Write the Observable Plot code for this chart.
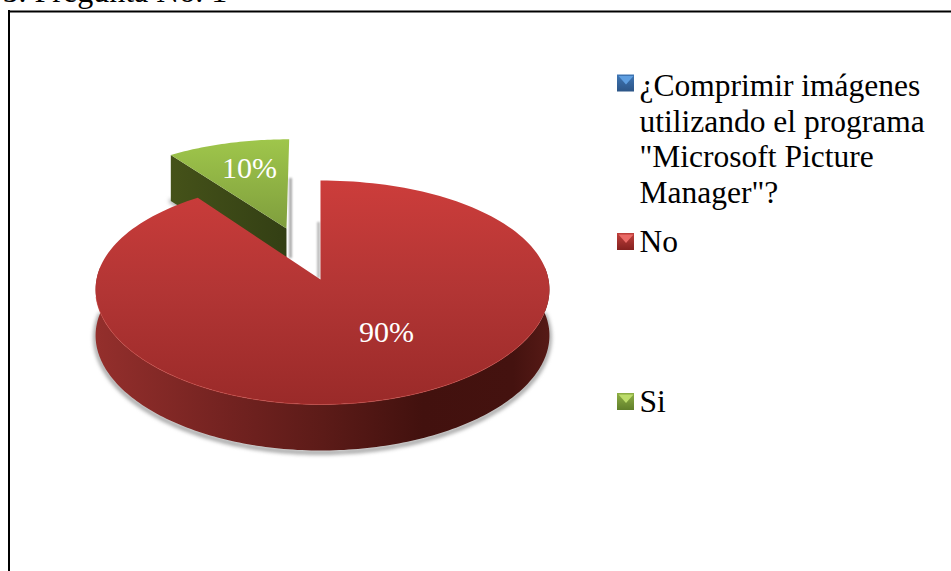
<!DOCTYPE html>
<html>
<head>
<meta charset="utf-8">
<style>html,body{margin:0;padding:0;background:#fff;overflow:hidden}svg{display:block}</style>
<script src="https://cdn.jsdelivr.net/npm/d3@7"></script>
<script src="https://cdn.jsdelivr.net/npm/@observablehq/plot@0.6"></script>
</head>
<body>
<script>
const categories = ["¿Comprimir imágenes\nutilizando el programa\n\"Microsoft Picture\nManager\"?", "No", "Si"];
const shares = [0, 90, 10];
const sliceLabels = ["", "90%", "10%"];
const title = "5. Pregunta No. 1";

// Projection of the tilted pie disc onto the page
const view = {cx: 320, cy: 279, rxL: 224, rxR: 228, ry: 110.5, px: 0.09, py: 0.116, depth: 46, explode: 0.513};
function project(u, v) {
  return {
    x: view.cx + (u < 0 ? view.rxL : view.rxR) * u / (1 + view.px * v),
    y: view.cy - view.ry * v / (1 + view.py * v)
  };
}
const slices = d3.pie().sort(null).startAngle(0).endAngle(2 * Math.PI)(shares);
const No = slices[1], Si = slices[2];

function rim(a0, a1, offset = [0, 0], n = 180) {
  return d3.range(n + 1).map(i => {
    const t = a0 + (a1 - a0) * i / n;
    return project(Math.sin(t) + offset[0], Math.cos(t) + offset[1]);
  });
}
function down(pts, d = view.depth) { return pts.map(q => ({x: q.x, y: q.y + d})); }

const mid = (Si.startAngle + Si.endAngle) / 2;
const off = [Math.sin(mid) * view.explode, Math.cos(mid) * view.explode];

const noApex = project(0, 0);
const siApex = project(off[0], off[1]);
const noTop = [noApex, ...rim(No.startAngle, No.endAngle), noApex];
const siRim = rim(Si.startAngle, Si.endAngle, off, 40);
const siTop = [siApex, ...siRim, siApex];
const siCorner = siRim[0];
const siFace = [siApex, siCorner, ...down([siCorner]), ...down([siApex]), siApex];

// Visible outer wall of the red slice: the front half of the rim
const wallTop = rim(Math.PI / 2 - 0.12, Math.PI * 3 / 2 + 0.12);
const noWall = [...wallTop, ...down(wallTop).reverse(), wallTop[0]];
const noFrontEdge = rim(Math.PI * 0.62, Math.PI * 1.45);

const shapeMark = (pts, options) => Plot.line(pts, {x: "x", y: "y", stroke: "none", curve: "linear", ...options});

const gradient = (id, x1, y1, x2, y2, stops) =>
  `<linearGradient id="${id}" gradientUnits="objectBoundingBox" x1="${x1}" y1="${y1}" x2="${x2}" y2="${y2}">` +
  stops.map(([o, c]) => `<stop offset="${o}" stop-color="${c}"/>`).join("") + `</linearGradient>`;

const defs = () => {
  const g = document.createElementNS("http://www.w3.org/2000/svg", "defs");
  g.innerHTML =
    gradient("redTop", 0, 0, 0, 1, [[0, "#cc3d3b"], [0.5, "#b23534"], [1, "#9a2a29"]]) +
    gradient("redWall", 0, 0, 1, 0, [[0, "#942f2c"], [0.3, "#722220"], [0.5, "#5c1b18"], [0.72, "#42110e"], [0.92, "#44120f"], [1, "#561a16"]]) +
    gradient("greenTop", 0, 0, 0, 1, [[0, "#9fc64b"], [1, "#7f9e3d"]]) +
    gradient("greenFace", 0, 0, 1, 0, [[0, "#455219"], [1, "#333f14"]]) +
    gradient("blueKey", 0, 0, 0, 1, [[0, "#3f76b4"], [1, "#2c5587"]]) +
    gradient("redKey", 0, 0, 0, 1, [[0, "#c0403c"], [1, "#84211f"]]) +
    gradient("greenKey", 0, 0, 0, 1, [[0, "#8eaf45"], [1, "#607f2a"]]);
  return g;
};

// Legend swatches: bevelled squares in each legend row
const keyRows = [{y: 83, f: "url(#blueKey)", hi: "#5e9ee0"}, {y: 241.5, f: "url(#redKey)", hi: "#ea6a66"}, {y: 401.5, f: "url(#greenKey)", hi: "#bcdc6a"}];
const keyX = 625.5, keyR = 8.5;
const keyMarks = keyRows.flatMap(k => [
  Plot.rect([k], {x1: keyX - keyR, x2: keyX + keyR, y1: k.y - keyR, y2: k.y + keyR, fill: k.f, stroke: "none"}),
  shapeMark([{x: keyX - keyR + 1, y: k.y - keyR + 1}, {x: keyX + keyR - 1, y: k.y - keyR + 1}, {x: keyX, y: k.y + 1}], {fill: k.hi})
]);

const legendText = [
  {label: categories[0], x: 639, y: 70},
  {label: categories[1], x: 639, y: 226},
  {label: categories[2], x: 639, y: 386}
];
const valueText = [
  {label: sliceLabels[1], x: 386, y: 332},
  {label: sliceLabels[2], x: 249, y: 168}
];

const chart = Plot.plot({
  width: 951,
  height: 571,
  margin: 0,
  style: {background: "#fff", fontFamily: "'Liberation Serif', serif"},
  x: {domain: [0, 951], range: [0, 951], axis: null},
  y: {domain: [0, 571], range: [0, 571], axis: null},
  marks: [
    defs,
    // Chart frame (runs off the right and bottom edges of the page)
    Plot.ruleY([11], {x1: 8, x2: 951, stroke: "#000", strokeWidth: 2}),
    Plot.ruleX([8.5], {y1: 10, y2: 571, stroke: "#000", strokeWidth: 2}),
    Plot.text([{t: title, x: 2, y: 1}], {x: "x", y: "y", text: "t", textAnchor: "start", lineAnchor: "bottom", fontSize: 32, fill: "#000"}),

    // Soft shadows
    shapeMark(down(wallTop, view.depth + 2), {stroke: "#777", strokeWidth: 3, imageFilter: "blur(2px)"}),
    Plot.ruleX([290], {y1: 178, y2: 258, stroke: "#9a9a9a", strokeWidth: 2.5, imageFilter: "blur(1px)"}),
    Plot.ruleX([318], {y1: 222, y2: 278, stroke: "#9a9a9a", strokeWidth: 2, imageFilter: "blur(1px)"}),
    shapeMark([{x: siCorner.x, y: siCorner.y + view.depth}, {x: siCorner.x + 30, y: siCorner.y + view.depth + 20}], {stroke: "#888", strokeWidth: 3, imageFilter: "blur(2px)"}),

    // Green slice, pulled out
    shapeMark(siFace, {fill: "url(#greenFace)"}),
    shapeMark(siTop, {fill: "url(#greenTop)"}),

    // Red slice
    shapeMark(noWall, {fill: "url(#redWall)"}),
    shapeMark(noTop, {fill: "url(#redTop)"}),
    shapeMark(noFrontEdge, {stroke: "#cf4a44", strokeWidth: 1, strokeOpacity: 0.6}),

    Plot.text(valueText, {x: "x", y: "y", text: "label", fill: "#fff", fontSize: 30, textAnchor: "middle", lineAnchor: "middle"}),

    // Legend
    ...keyMarks,
    Plot.text(legendText, {x: "x", y: "y", text: "label", fill: "#000", fontSize: 31.5, textAnchor: "start", lineAnchor: "top", lineHeight: 1.135})
  ]
});
document.body.appendChild(chart);
</script>
</body>
</html>
